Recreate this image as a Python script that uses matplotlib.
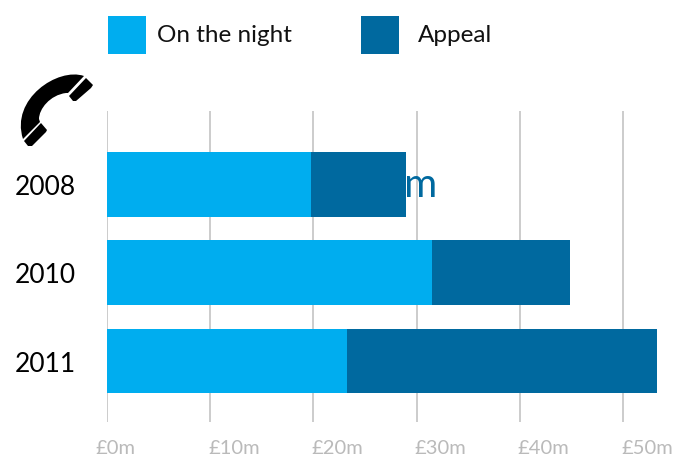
import matplotlib
matplotlib.use("Agg")
import matplotlib.pyplot as plt
from matplotlib.patches import PathPatch, Rectangle
from matplotlib.path import Path
from matplotlib.transforms import Affine2D

W, H = 676, 456

years = ["2008", "2010", "2011"]
on_the_night = [19.8, 31.5, 23.3]
appeal = [9.2, 13.4, 30.0]
x_ticks = [0, 10, 20, 30, 40, 50]
x_labels = ["£0m", "£10m", "£20m", "£30m", "£40m", "£50m"]
hidden_label = "£29m"

LIGHT = "#00adef"
DARK = "#00699f"
GRID = "#c4c4c4"
TICK_TEXT = "#bababa"

# handset outline, in pixels from the top left of the figure
body_verts = [(84, 77), (58, 68), (10, 100), (23, 140), (40, 123), (39, 120),
              (39, 110), (50, 96), (66, 94), (68, 94), (84, 77)]
body_codes = [Path.MOVETO, Path.CURVE4, Path.CURVE4, Path.CURVE4, Path.LINETO, Path.LINETO,
              Path.CURVE4, Path.CURVE4, Path.CURVE4, Path.LINETO, Path.CLOSEPOLY]
earpiece = [(86, 79), (93, 86), (91, 89), (76, 102), (73, 102), (69, 97)]
mouthpiece = [(41, 124), (47, 131), (46, 133), (32, 147), (28, 147), (24, 142)]

plt.rcParams["font.family"] = ["Lato", "DejaVu Sans"]


def px_rect(x0, y0, x1, y1):
    return [x0 / W, 1 - y1 / H, (x1 - x0) / W, (y1 - y0) / H]


def closed(outline):
    codes = [Path.MOVETO] + [Path.LINETO] * (len(outline) - 1) + [Path.CLOSEPOLY]
    return Path(outline + [outline[0]], codes)


def draw_handset(fig):
    to_fig = Affine2D().scale(1 / W, -1 / H).translate(0, 1) + fig.transFigure
    paths = [Path(body_verts, body_codes), closed(earpiece), closed(mouthpiece)]
    for p in paths:
        fig.add_artist(PathPatch(p, facecolor="black", edgecolor="none", transform=to_fig))


def main():
    fig = plt.figure(figsize=(W / 100, H / 100), dpi=100)
    ax = fig.add_axes(px_rect(107, 112, 676, 423))
    ax.patch.set_visible(False)
    for s in ax.spines.values():
        s.set_visible(False)

    ypos = list(range(len(years)))
    ax.set_xlim(0, 55.13)
    ax.set_ylim(2.69, -0.83)

    # stacked bars
    ax.barh(ypos, on_the_night, height=0.734, color=LIGHT, zorder=3)
    ax.barh(ypos, appeal, left=on_the_night, height=0.734, color=DARK, zorder=3)

    # total label sits behind the bar, only its tail shows
    ax.annotate(hidden_label, (on_the_night[0] + appeal[0], 0), xytext=(31, 0),
                textcoords="offset pixels", ha="right", va="center", color=DARK,
                fontsize=29, zorder=2)

    ax.set_xticks(x_ticks)
    ax.set_xticklabels([])
    ax.set_yticks(ypos)
    ax.set_yticklabels([])
    ax.tick_params(length=0)
    ax.grid(axis="x", color=GRID, linewidth=1.2, zorder=1)

    for i, year in enumerate(years):
        ax.annotate(year, (0, i), xytext=(-31, -2), textcoords="offset pixels",
                    ha="right", va="center", color="black", fontsize=19)

    for tick, label in zip(x_ticks, x_labels):
        dx = -12 if tick == 0 else -2
        ax.annotate(label, (tick, 2.69), xytext=(dx, -25), textcoords="offset pixels",
                    ha="left", va="center", color=TICK_TEXT, fontsize=14.5,
                    annotation_clip=False)

    # legend drawn by hand so the swatches land where they should
    for x0, color, text, tx in [(108, LIGHT, "On the night", 157), (361, DARK, "Appeal", 418)]:
        fig.add_artist(Rectangle((x0 / W, 1 - 54.5 / H), 38 / W, 38 / H, facecolor=color,
                                 edgecolor="none", transform=fig.transFigure))
        fig.text(tx / W, 1 - 36 / H, text, ha="left", va="center", color="#111111", fontsize=17.5)

    draw_handset(fig)
    fig.savefig("out.png", dpi=100)


if __name__ == "__main__":
    main()
